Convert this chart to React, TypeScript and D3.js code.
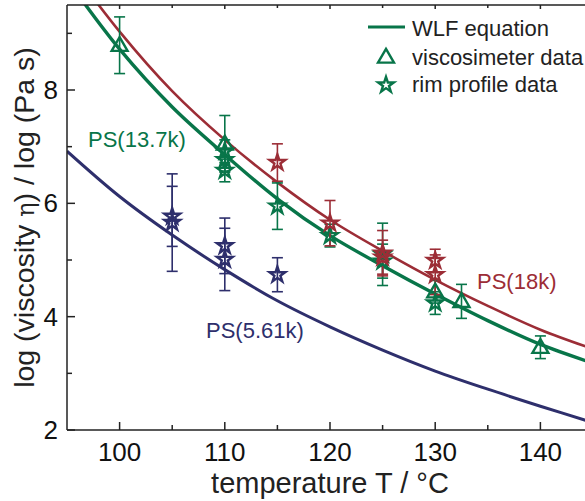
import React from "react";
import * as d3 from "d3";

const W = 585;
const H = 501;

// WLF curves: [T, log eta]
const curveGreen: [number, number][] = [
  [95, 9.95], [100, 8.72], [105, 7.7], [110, 6.86], [115, 6.08], [120, 5.43],
  [125, 4.9], [130, 4.4], [135, 3.93], [140, 3.51], [145, 3.18],
];
const curveRed: [number, number][] = [
  [95, 10.25], [100, 9.03], [105, 7.98], [110, 7.12], [115, 6.37], [120, 5.71],
  [125, 5.16], [130, 4.65], [135, 4.19], [140, 3.77], [145, 3.43],
];
const curveNavy: [number, number][] = [
  [95, 6.92], [100, 6.12], [105, 5.44], [110, 4.83], [115, 4.28], [120, 3.82],
  [125, 3.41], [130, 3.04], [135, 2.72], [140, 2.42], [145, 2.13],
];

// viscosimeter data (triangles) PS(13.7k): [T, value, err]
const viscoGreen: [number, number, number][] = [
  [100, 8.79, 0.5], [110, 7.05, 0.5], [130, 4.44, 0.2], [132.5, 4.27, 0.3], [140, 3.46, 0.2],
];
// rim profile data (stars)
const rimGreen: [number, number, number][] = [
  [110, 6.92, 0.2], [110, 6.77, 0.2], [110, 6.58, 0.2], [115, 5.95, 0.41],
  [120, 5.43, 0.2], [125, 5.1, 0.55], [125, 4.98, 0.3], [130, 4.24, 0.2],
];
const rimRed: [number, number, number][] = [
  [115, 6.72, 0.33], [120, 5.65, 0.4], [125, 5.12, 0.4], [125, 5.05, 0.3],
  [130, 4.99, 0.2], [130, 4.74, 0.35],
];
const rimNavy: [number, number, number][] = [
  [105, 5.77, 0.53], [105, 5.66, 0.86], [110, 5.25, 0.49], [110, 5.01, 0.55], [115, 4.74, 0.3],
];

const xMajor = [100, 110, 120, 130, 140];
const xMinor = [105, 115, 125, 135];
const yMajor = [2, 4, 6, 8];
const yMinor = [3, 5, 7, 9];

const GREEN = "#087549";
const RED = "#9c2d36";
const NAVY = "#2e2f6c";
const FONT = "'Liberation Sans', Arial, sans-serif";

export default function App() {
  const left = 67, right = 593, top = 5, bottom = 430;
  const x = d3.scaleLinear().domain([95, 145]).range([left, right]);
  const y = d3.scaleLinear().domain([2, 9.5]).range([bottom, top]);
  const line = d3
    .line<[number, number]>()
    .x((d) => x(d[0]))
    .y((d) => y(d[1]))
    .curve(d3.curveCatmullRom);

  const star = d3.symbol().type(d3.symbolStar).size(76)()!;
  const tri = d3.symbol().type(d3.symbolTriangle).size(110)()!;

  const errBars = (data: [number, number, number][], color: string, key: string) =>
    data.map((d, i) => {
      const cx = x(d[0]);
      const y1 = y(d[1] + d[2]);
      const y2 = y(d[1] - d[2]);
      return (
        <g key={key + i} stroke={color} strokeWidth={1.6}>
          <line x1={cx} x2={cx} y1={y1} y2={y2} />
          <line x1={cx - 5.5} x2={cx + 5.5} y1={y1} y2={y1} />
          <line x1={cx - 5.5} x2={cx + 5.5} y1={y2} y2={y2} />
        </g>
      );
    });
  const markers = (data: [number, number, number][], color: string, path: string, key: string, dy = 0) =>
    data.map((d, i) => (
      <path
        key={key + i}
        d={path}
        transform={`translate(${x(d[0])},${y(d[1]) + dy})`}
        fill="none"
        stroke={color}
        strokeWidth={2.4}
        strokeLinejoin="miter"
      />
    ));

  return (
    <svg
      width={W}
      height={H}
      style={{ position: "absolute", left: 0, top: 0, background: "#fff" }}
      fontFamily={FONT}
    >
      <defs>
        <clipPath id="plot">
          <rect x={left} y={top} width={right - left} height={bottom - top} />
        </clipPath>
      </defs>
      <g clipPath="url(#plot)" fill="none">
        <path d={line(curveNavy)!} stroke={NAVY} strokeWidth={3} />
        <path d={line(curveRed)!} stroke={RED} strokeWidth={2.6} />
        <path d={line(curveGreen)!} stroke={GREEN} strokeWidth={3.4} />
      </g>
      {errBars(rimNavy, NAVY, "en")}
      {errBars(viscoGreen, GREEN, "ev")}
      {errBars(rimGreen, GREEN, "eg")}
      {errBars(rimRed, RED, "er")}
      {markers(rimNavy, NAVY, star, "mn")}
      {markers(viscoGreen, GREEN, tri, "mv", 1)}
      {markers(rimGreen, GREEN, star, "mg")}
      {markers(rimRed, RED, star, "mr")}

      {/* frame */}
      <g stroke="#222" strokeWidth={1.5}>
        <line x1={left} x2={left} y1={top} y2={bottom} />
        <line x1={left} x2={W} y1={bottom} y2={bottom} />
        <line x1={left} x2={W} y1={top} y2={top} />
        {xMajor.map((t) => (
          <g key={"xt" + t}>
            <line x1={x(t)} x2={x(t)} y1={bottom} y2={bottom - 8} />
            <line x1={x(t)} x2={x(t)} y1={top} y2={top + 4} />
          </g>
        ))}
        {xMinor.map((t) => (
          <g key={"xm" + t}>
            <line x1={x(t)} x2={x(t)} y1={bottom} y2={bottom - 5} />
            <line x1={x(t)} x2={x(t)} y1={top} y2={top + 3} />
          </g>
        ))}
        {yMajor.map((t) => (
          <line key={"yt" + t} x1={left} x2={left + 8} y1={y(t)} y2={y(t)} />
        ))}
        {yMinor.map((t) => (
          <line key={"ym" + t} x1={left} x2={left + 5} y1={y(t)} y2={y(t)} />
        ))}
      </g>
      <g fontSize={26} fill="#111">
        {xMajor.map((t) => (
          <text key={"xl" + t} x={x(t)} y={461} textAnchor="middle">
            {t}
          </text>
        ))}
        {yMajor.map((t) => (
          <text key={"yl" + t} x={58} y={y(t) + 9} textAnchor="end">
            {t}
          </text>
        ))}
      </g>
      <text x={(left + right) / 2} y={493} textAnchor="middle" fontSize={29} fill="#222">
        temperature T / °C
      </text>
      <text
        transform={`translate(34,${(top + bottom) / 2}) rotate(-90)`}
        textAnchor="middle"
        fontSize={28.5}
        fill="#222"
      >
        log (viscosity <tspan fontFamily="'DejaVu Serif', serif" fontSize={24}>η</tspan>) / log (Pa s)
      </text>

      {/* series labels */}
      <text x={88} y={147} fontSize={22} fill={GREEN}>PS(13.7k)</text>
      <text x={206} y={338} fontSize={22} fill={NAVY}>PS(5.61k)</text>
      <text x={477} y={289} fontSize={22} fill={RED}>PS(18k)</text>

      {/* legend */}
      <line x1={368} x2={405} y1={27} y2={27} stroke={GREEN} strokeWidth={3} />
      <path d={tri} transform="translate(386,58)" fill="none" stroke={GREEN} strokeWidth={2.4} />
      <path d={star} transform="translate(386,85)" fill="none" stroke={GREEN} strokeWidth={2.4} />
      <g fontSize={22} fill="#222">
        <text x={412} y={36}>WLF equation</text>
        <text x={412} y={65}>viscosimeter data</text>
        <text x={412} y={92}>rim profile data</text>
      </g>
    </svg>
  );
}
